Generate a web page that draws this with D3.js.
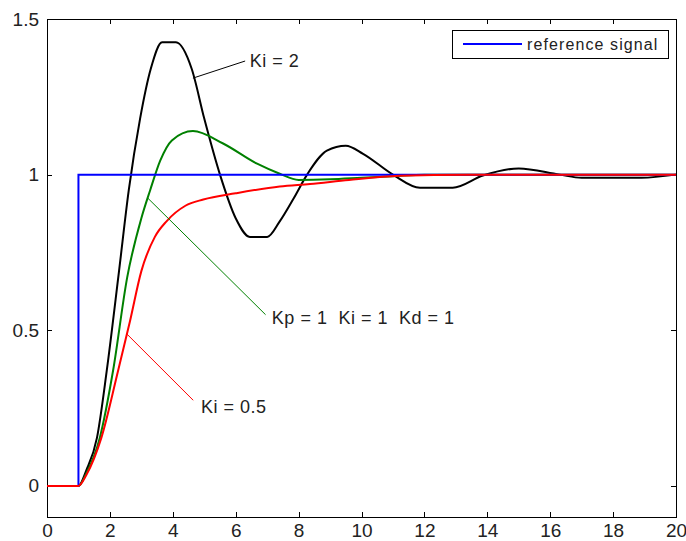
<!DOCTYPE html>
<html>
<head>
<meta charset="utf-8">
<script src="https://cdn.jsdelivr.net/npm/d3@7"></script>
<style>
  body { margin: 0; background: #fff; }
  text { font-family: "Liberation Sans", Arial, sans-serif; }
</style>
</head>
<body>
<div id="chart"></div>
<script>
// step response data (time, output)
var refT = [0, 1, 1, 20];
var refV = [0, 0, 1, 1];

var ki2T = [0, 1, 1.25, 1.59, 1.9, 2.29, 2.6, 2.96, 3.3, 3.66, 4.1, 4.6, 5.0, 5.5, 6.0, 6.45, 7.0, 7.4, 7.85, 8.27, 8.9, 9.5, 10.05, 11.0, 11.86, 12.9, 13.86, 15.0, 16.3, 17.0, 18.9, 20];
var ki2V = [0, 0, 0.05, 0.155, 0.37, 0.69, 0.95, 1.18, 1.34, 1.425, 1.425, 1.34, 1.18, 1.0, 0.86, 0.8, 0.8, 0.85, 0.925, 1.0, 1.077, 1.093, 1.067, 1.0, 0.958, 0.958, 0.997, 1.02, 1.0, 0.99, 0.99, 1.0];

var ki1T = [0, 1, 1.25, 1.68, 2.1, 2.55, 3.0, 3.28, 3.6, 3.97, 4.64, 5.6, 6.68, 7.4, 8.0, 9.0, 10.0, 11.0, 12.0, 20];
var ki1V = [0, 0, 0.04, 0.155, 0.37, 0.67, 0.86, 0.95, 1.045, 1.11, 1.14, 1.1, 1.035, 1.003, 0.983, 0.985, 0.99, 0.995, 1.0, 1.0];

var ki05T = [0, 1, 1.25, 1.73, 2.26, 2.64, 3.0, 3.43, 3.8, 4.4, 4.97, 6.0, 7.4, 8.36, 9.6, 11.2, 13.4, 20];
var ki05V = [0, 0, 0.035, 0.155, 0.37, 0.53, 0.69, 0.8, 0.85, 0.9, 0.92, 0.94, 0.962, 0.97, 0.983, 0.996, 1.0, 1.0];

var xTicks = [0, 2, 4, 6, 8, 10, 12, 14, 16, 18, 20];
var yTicks = [0, 0.5, 1, 1.5];

var width = 686,
    height = 541,
    margin = {top: 19, right: 10, bottom: 24, left: 47};

var x = d3.scaleLinear().domain([0, 20]).range([margin.left, width - margin.right]);
var y = d3.scaleLinear().domain([-0.1, 1.5]).range([height - margin.bottom, margin.top]);

var svg = d3.select("#chart")
    .append("svg")
    .attr("width", width)
    .attr("height", height);

svg.append("rect")
    .attr("width", width).attr("height", height)
    .attr("fill", "#fff");

// frame
svg.append("rect")
    .attr("x", x(0)).attr("y", y(1.5))
    .attr("width", x(20) - x(0)).attr("height", y(-0.1) - y(1.5))
    .attr("fill", "none").attr("stroke", "#000").attr("stroke-width", 1)
    .attr("shape-rendering", "crispEdges");

// axes with inward ticks, matlab style
var fmt = function(d) { return d3.format("")(d); };
var xBottom = svg.append("g")
    .attr("transform", "translate(0," + y(-0.1) + ")")
    .call(d3.axisBottom(x).tickValues(xTicks).tickSizeInner(-5).tickSizeOuter(0).tickPadding(7).tickFormat(fmt));
var xTop = svg.append("g")
    .attr("transform", "translate(0," + y(1.5) + ")")
    .call(d3.axisTop(x).tickValues(xTicks).tickSizeInner(-5).tickSizeOuter(0).tickFormat(""));
var yLeft = svg.append("g")
    .attr("transform", "translate(" + x(0) + ",0)")
    .call(d3.axisLeft(y).tickValues(yTicks).tickSizeInner(-5).tickSizeOuter(0).tickPadding(8).tickFormat(fmt));
var yRight = svg.append("g")
    .attr("transform", "translate(" + x(20) + ",0)")
    .call(d3.axisRight(y).tickValues(yTicks).tickSizeInner(-5).tickSizeOuter(0).tickFormat(""));

[xBottom, xTop, yLeft, yRight].forEach(function(g) {
    g.select(".domain").remove();
    g.selectAll("line").attr("stroke", "#000").attr("shape-rendering", "crispEdges");
    g.selectAll("text").style("font-size", "19px").attr("fill", "#222");
});

function series(ts, vs) {
    return ts.map(function(t, i) { return [t, vs[i]]; });
}

var line = d3.line()
    .x(function(d) { return x(d[0]); })
    .y(function(d) { return y(d[1]); })
    .curve(d3.curveMonotoneX);

var stepLine = d3.line()
    .x(function(d) { return x(d[0]); })
    .y(function(d) { return y(d[1]); });

svg.append("path").datum(series(ki2T, ki2V))
    .attr("d", line).attr("fill", "none").attr("stroke", "#000").attr("stroke-width", 2);
svg.append("path").datum(series(ki1T, ki1V))
    .attr("d", line).attr("fill", "none").attr("stroke", "#008000").attr("stroke-width", 2);
svg.append("path").datum(series(refT, refV))
    .attr("d", stepLine).attr("fill", "none").attr("stroke", "#0000ff").attr("stroke-width", 2);
svg.append("path").datum(series(ki05T, ki05V))
    .attr("d", line).attr("fill", "none").attr("stroke", "#ff0000").attr("stroke-width", 2);

// annotations: leader line from curve point to label
var notes = [
    {t: 4.64, v: 1.31, lx: 6.3, lv: 1.365, label: "Ki = 2", color: "#000", tx: 6.45, tv: 1.345},
    {t: 3.2, v: 0.925, lx: 6.95, lv: 0.55, label: "Kp = 1  Ki = 1  Kd = 1", color: "#008000", tx: 7.15, tv: 0.52},
    {t: 2.52, v: 0.49, lx: 4.65, lv: 0.275, label: "Ki = 0.5", color: "#ff0000", tx: 4.9, tv: 0.235}
];

notes.forEach(function(n) {
    svg.append("line")
        .attr("x1", x(n.t)).attr("y1", y(n.v))
        .attr("x2", x(n.lx)).attr("y2", y(n.lv))
        .attr("stroke", n.color).attr("stroke-width", 1);
    svg.append("text")
        .attr("x", x(n.tx)).attr("y", y(n.tv))
        .style("font-size", "18px")
        .style("letter-spacing", "0.5px")
        .style("white-space", "pre")
        .attr("fill", "#222")
        .text(n.label);
});

// legend
var lg = svg.append("g").attr("transform", "translate(452,30)");
lg.append("rect")
    .attr("width", 216).attr("height", 28)
    .attr("fill", "#fff").attr("stroke", "#000").attr("stroke-width", 1)
    .attr("shape-rendering", "crispEdges");
lg.append("line")
    .attr("x1", 11).attr("x2", 70).attr("y1", 14).attr("y2", 14)
    .attr("stroke", "#0000ff").attr("stroke-width", 2);
lg.append("text")
    .attr("x", 75).attr("y", 20)
    .style("font-size", "16px")
    .style("letter-spacing", "1.1px")
    .attr("fill", "#222")
    .text("reference signal");
</script>
</body>
</html>
